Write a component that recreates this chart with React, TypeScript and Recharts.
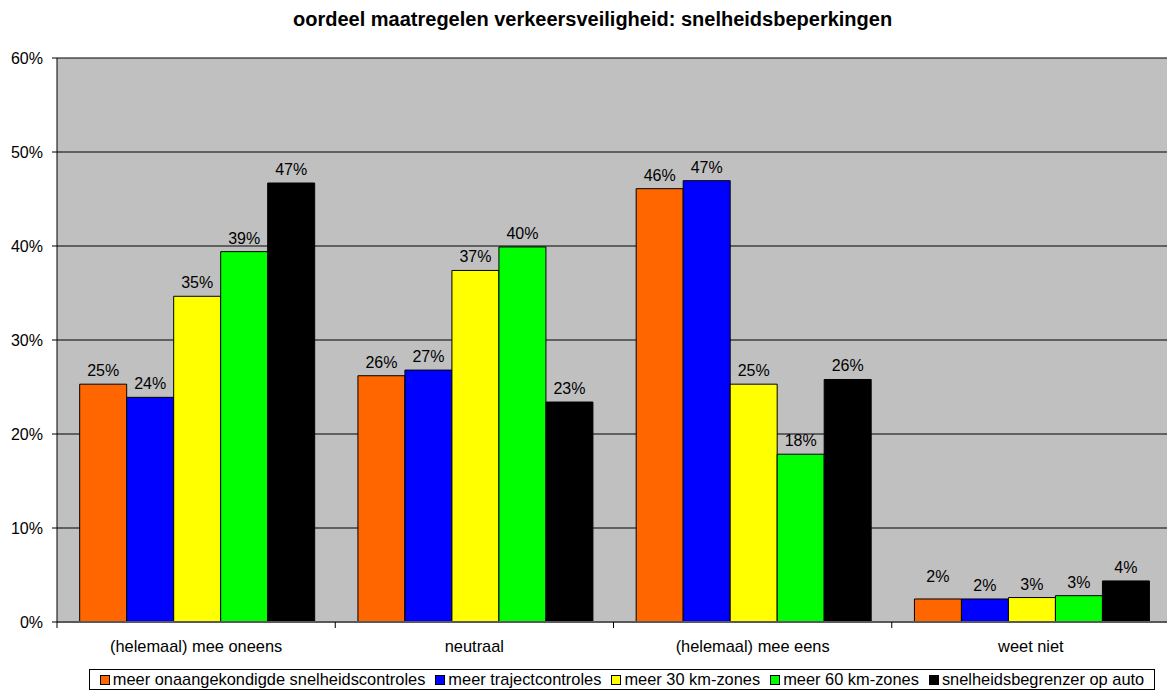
import React from 'react'
import { BarChart, Bar, XAxis, YAxis, CartesianGrid, LabelList } from 'recharts'

const categories = ['(helemaal) mee oneens', 'neutraal', '(helemaal) mee eens', 'weet niet']
const onaangekondigd = [25.3, 26.2, 46.1, 2.45]
const traject = [23.9, 26.8, 46.95, 2.45]
const zones30 = [34.65, 37.4, 25.3, 2.6]
const zones60 = [39.4, 39.9, 17.85, 2.8]
const begrenzer = [46.7, 23.4, 25.8, 4.37]
const yTicks = [0, 10, 20, 30, 40, 50, 60]

const series = [
  { key: 'onaangekondigd', name: 'meer onaangekondigde snelheidscontroles', color: '#FF6600', values: onaangekondigd },
  { key: 'traject', name: 'meer trajectcontroles', color: '#0000FF', values: traject },
  { key: 'zones30', name: 'meer 30 km-zones', color: '#FFFF00', values: zones30 },
  { key: 'zones60', name: 'meer 60 km-zones', color: '#00FF00', values: zones60 },
  { key: 'begrenzer', name: 'snelheidsbegrenzer op auto', color: '#000000', values: begrenzer },
]

const data = categories.map((cat, i) => {
  const row: any = { cat }
  series.forEach(s => { row[s.key] = s.values[i] })
  return row
})

const CHART_W = 1170
const Y_AXIS_W = 57
const BAND = (CHART_W - Y_AXIS_W) / categories.length
const FONT = '"Liberation Sans", Arial, sans-serif'

// in the original the orange "2%" label is pushed up to avoid the blue one
const labelLift = (key: string, index: number) => (key === 'onaangekondigd' && index === 3 ? 9 : 0)

const CategoryTick = (props: any) => {
  const { x, y, payload } = props
  return (
    <g>
      <line x1={x - BAND / 2} x2={x - BAND / 2} y1={y} y2={y + 6} stroke="#000" strokeWidth={1} />
      <text x={x} y={y + 24} textAnchor="middle" dominantBaseline="central" fontSize={16.4} fill="#000">
        {payload.value}
      </text>
    </g>
  )
}

const makeLabel = (key: string) => (props: any) => {
  const { x, y, width, value, index } = props
  return (
    <text
      x={x + width / 2}
      y={y - 8 - labelLift(key, index)}
      textAnchor="middle"
      fontSize={16}
      fill="#000"
    >
      {`${Math.round(Number(value))}%`}
    </text>
  )
}

export default function App() {
  return (
    <div style={{ position: 'absolute', left: 0, top: 0, width: 1167, height: 693, overflow: 'hidden', background: '#fff', fontFamily: FONT }}>
      <div style={{ position: 'absolute', left: 293, top: 8, fontSize: 20, fontWeight: 'bold', whiteSpace: 'nowrap', color: '#000' }}>
        oordeel maatregelen verkeersveiligheid: snelheidsbeperkingen
      </div>
      <BarChart
        width={CHART_W}
        height={693}
        data={data}
        margin={{ top: 58, right: 0, left: 0, bottom: 41 }}
        barCategoryGap="8.15%"
        barGap={0}
        style={{ fontFamily: FONT }}
      >
        <CartesianGrid vertical={false} stroke="#000" fill="#C0C0C0" fillOpacity={1} />
        <XAxis
          dataKey="cat"
          height={30}
          tickLine={false}
          tickSize={0}
          tickMargin={0}
          axisLine={{ stroke: '#595959', strokeWidth: 2 }}
          tick={<CategoryTick />}
          interval={0}
        />
        <YAxis
          width={Y_AXIS_W}
          domain={[0, 60]}
          ticks={yTicks}
          tickFormatter={(v: number) => `${v}%`}
          tick={{ fontSize: 16, fill: '#000' }}
          tickSize={5}
          tickMargin={9}
          tickLine={{ stroke: '#000' }}
          axisLine={{ stroke: '#000' }}
        />
        {series.map(s => (
          <Bar key={s.key} dataKey={s.key} name={s.name} fill={s.color} stroke="#000" strokeWidth={1} isAnimationActive={false}>
            <LabelList dataKey={s.key} content={makeLabel(s.key)} />
          </Bar>
        ))}
      </BarChart>
      <div
        style={{
          position: 'absolute',
          left: 89,
          top: 669,
          width: 1066,
          height: 21,
          boxSizing: 'border-box',
          border: '1px solid #000',
          display: 'flex',
          alignItems: 'center',
          justifyContent: 'center',
          fontSize: 16.4,
          whiteSpace: 'nowrap',
          color: '#000',
        }}
      >
        {series.map((s, i) => (
          <span key={s.key} style={{ display: 'inline-flex', alignItems: 'center', marginRight: i < series.length - 1 ? 10 : 0 }}>
            <span style={{ display: 'inline-block', width: 10, height: 10, boxSizing: 'border-box', background: s.color, border: '1px solid #000', marginRight: 3 }} />
            {s.name}
          </span>
        ))}
      </div>
    </div>
  )
}
